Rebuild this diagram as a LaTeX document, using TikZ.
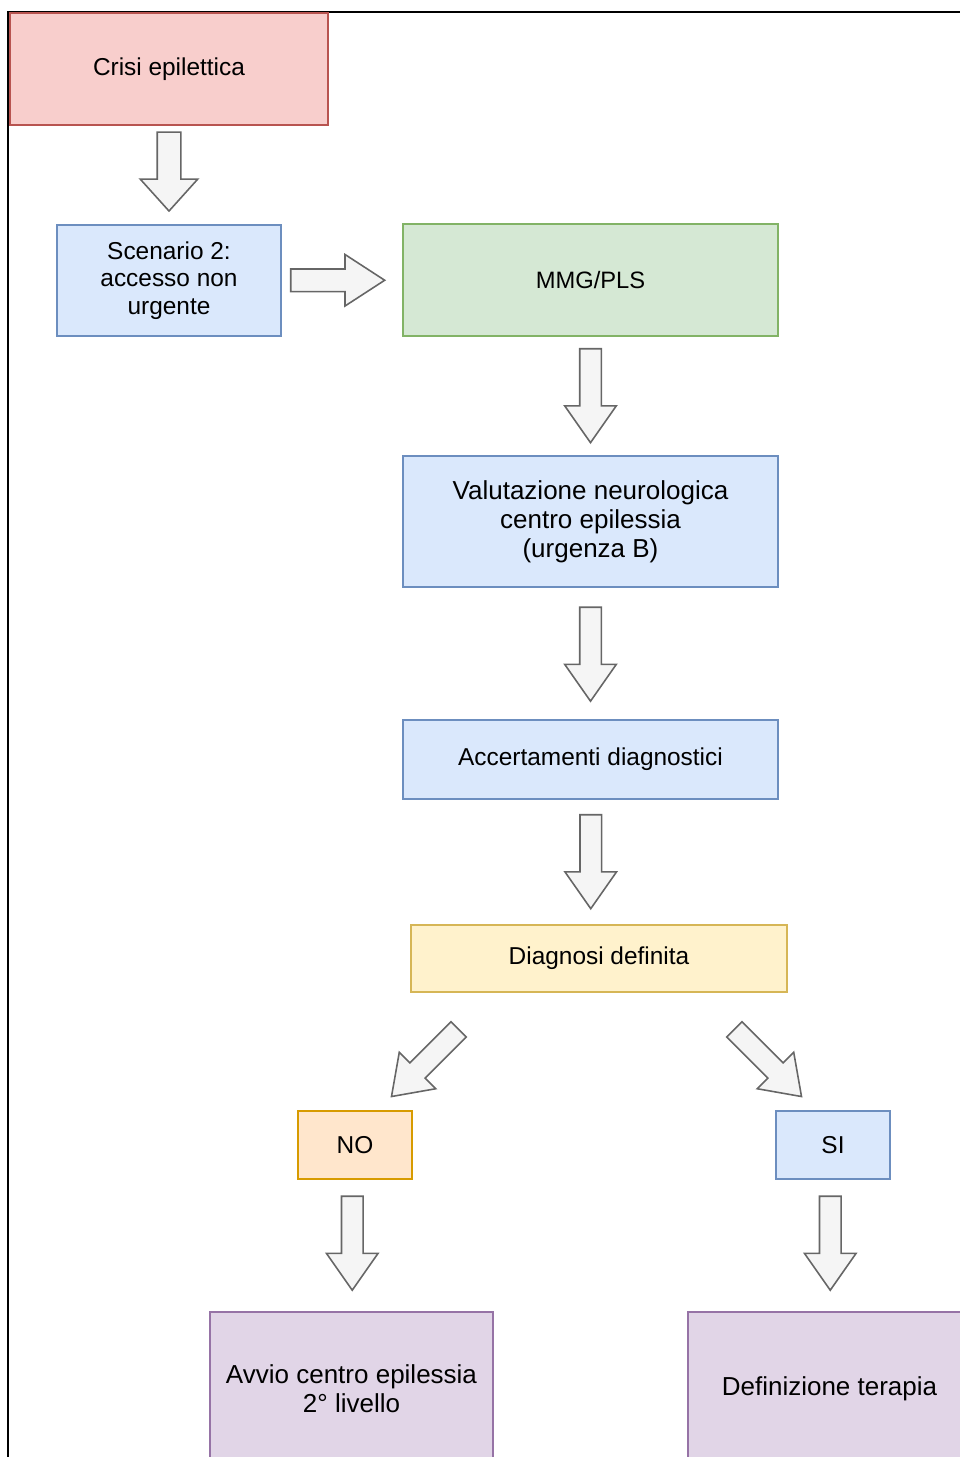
\documentclass[tikz,border=0pt]{standalone}
\usepackage{fontspec}
\setmainfont{Liberation Sans}
\usetikzlibrary{shapes.arrows,calc}

\definecolor{redfill}{HTML}{F8CECC}
\definecolor{redline}{HTML}{B85450}
\definecolor{bluefill}{HTML}{DAE8FC}
\definecolor{blueline}{HTML}{6C8EBF}
\definecolor{greenfill}{HTML}{D5E8D4}
\definecolor{greenline}{HTML}{82B366}
\definecolor{yellowfill}{HTML}{FFF2CC}
\definecolor{yellowline}{HTML}{D6B656}
\definecolor{orangefill}{HTML}{FFE6CC}
\definecolor{orangeline}{HTML}{D79B00}
\definecolor{purplefill}{HTML}{E1D5E7}
\definecolor{purpleline}{HTML}{9673A6}
\definecolor{arrowfill}{HTML}{F5F5F5}
\definecolor{arrowline}{HTML}{666666}

\tikzset{
  box/.style={rectangle, draw, line width=0.9pt, align=center, inner sep=2pt,
    font=\fontsize{13.9}{15.6}\selectfont},
  bigtext/.style={font=\fontsize{14.8}{16.5}\selectfont},
  redbox/.style={box, fill=redfill, draw=redline},
  bluebox/.style={box, fill=bluefill, draw=blueline},
  greenbox/.style={box, fill=greenfill, draw=greenline},
  yellowbox/.style={box, fill=yellowfill, draw=yellowline},
  orangebox/.style={box, fill=orangefill, draw=orangeline},
  purplebox/.style={box, fill=purplefill, draw=purpleline},
  blkarrow/.style={single arrow, draw=arrowline, fill=arrowfill, line width=0.9pt,
    inner sep=0.2cm, minimum height=1.88cm, single arrow head extend=0.3cm,
    single arrow tip angle=70}
}

\begin{document}
\begin{tikzpicture}[x=0.02cm, y=-0.02cm]
	\useasboundingbox (0,0) rectangle (960,1457);
	\clip (0,0) rectangle (960,1457);
	% Frame
	\draw[line width=1.2pt] (8,1457) -- (8,12) -- (960,12);
	% Boxes
	\node[redbox, minimum width=6.36cm, minimum height=2.24cm] (crisi) at (169,69) {Crisi epilettica};
	\node[bluebox, minimum width=4.48cm, minimum height=2.22cm] (scen) at (169,280.5) {Scenario 2:\\accesso non\\urgente};
	\node[greenbox, minimum width=7.5cm, minimum height=2.24cm, font=\fontsize{13.5}{15}\selectfont] (mmg) at (590.5,280) {MMG/PLS};
	\node[bluebox, bigtext, minimum width=7.5cm, minimum height=2.62cm] (valut) at (590.5,521.5) {Valutazione neurologica\\centro epilessia\\(urgenza B)};
	\node[bluebox, minimum width=7.5cm, minimum height=1.58cm] (accert) at (590.5,759.5) {Accertamenti diagnostici};
	\node[yellowbox, minimum width=7.52cm, minimum height=1.34cm] (diag) at (599,958.5) {Diagnosi definita};
	\node[orangebox, minimum width=2.28cm, minimum height=1.36cm] (no) at (355,1145) {NO};
	\node[bluebox, minimum width=2.28cm, minimum height=1.36cm] (si) at (833,1145) {SI};
	\node[purplebox, bigtext, minimum width=5.66cm, minimum height=3.08cm] (avvio) at (351.5,1389) {Avvio centro epilessia\\2° livello};
	\node[purplebox, bigtext, minimum width=5.66cm, minimum height=3.08cm] (defin) at (829.5,1389) {Definizione terapia};
	% Arrows
	\node[blkarrow, rotate=-90, minimum height=1.58cm, inner sep=0.22cm, single arrow head extend=0.34cm, single arrow tip angle=84] (a1) at ($(crisi.south)!0.5!(scen.north)+(0,-10)$) {};
	\node[blkarrow, inner sep=0.21cm, single arrow head extend=0.29cm, single arrow tip angle=66] (a2) at ($(scen.east)!0.5!(mmg.west)+(-13,0)$) {};
	\node[blkarrow, rotate=-90] (a3) at ($(mmg.south)!0.5!(valut.north)+(0,-8)$) {};
	\node[blkarrow, rotate=-90] (a4) at ($(valut.south)!0.5!(accert.north)+(0,-7)$) {};
	\node[blkarrow, rotate=-90] (a5) at ($(accert.south)!0.5!(diag.north)+(-4,-8)$) {};
	\node[blkarrow, rotate=-135, minimum height=1.9cm] (a6) at ($(diag.south west)!0.5!(no.north east)+(19,6)$) {};
	\node[blkarrow, rotate=-45, minimum height=1.9cm] (a7) at ($(diag.south east)!0.5!(si.north west)+(-19,6)$) {};
	\node[blkarrow, rotate=-90] (a8) at ($(no.south)!0.5!(avvio.north)+(-1,-10)$) {};
	\node[blkarrow, rotate=-90] (a9) at ($(si.south)!0.5!(defin.north)+(-1,-10)$) {};
\end{tikzpicture}
\end{document}
